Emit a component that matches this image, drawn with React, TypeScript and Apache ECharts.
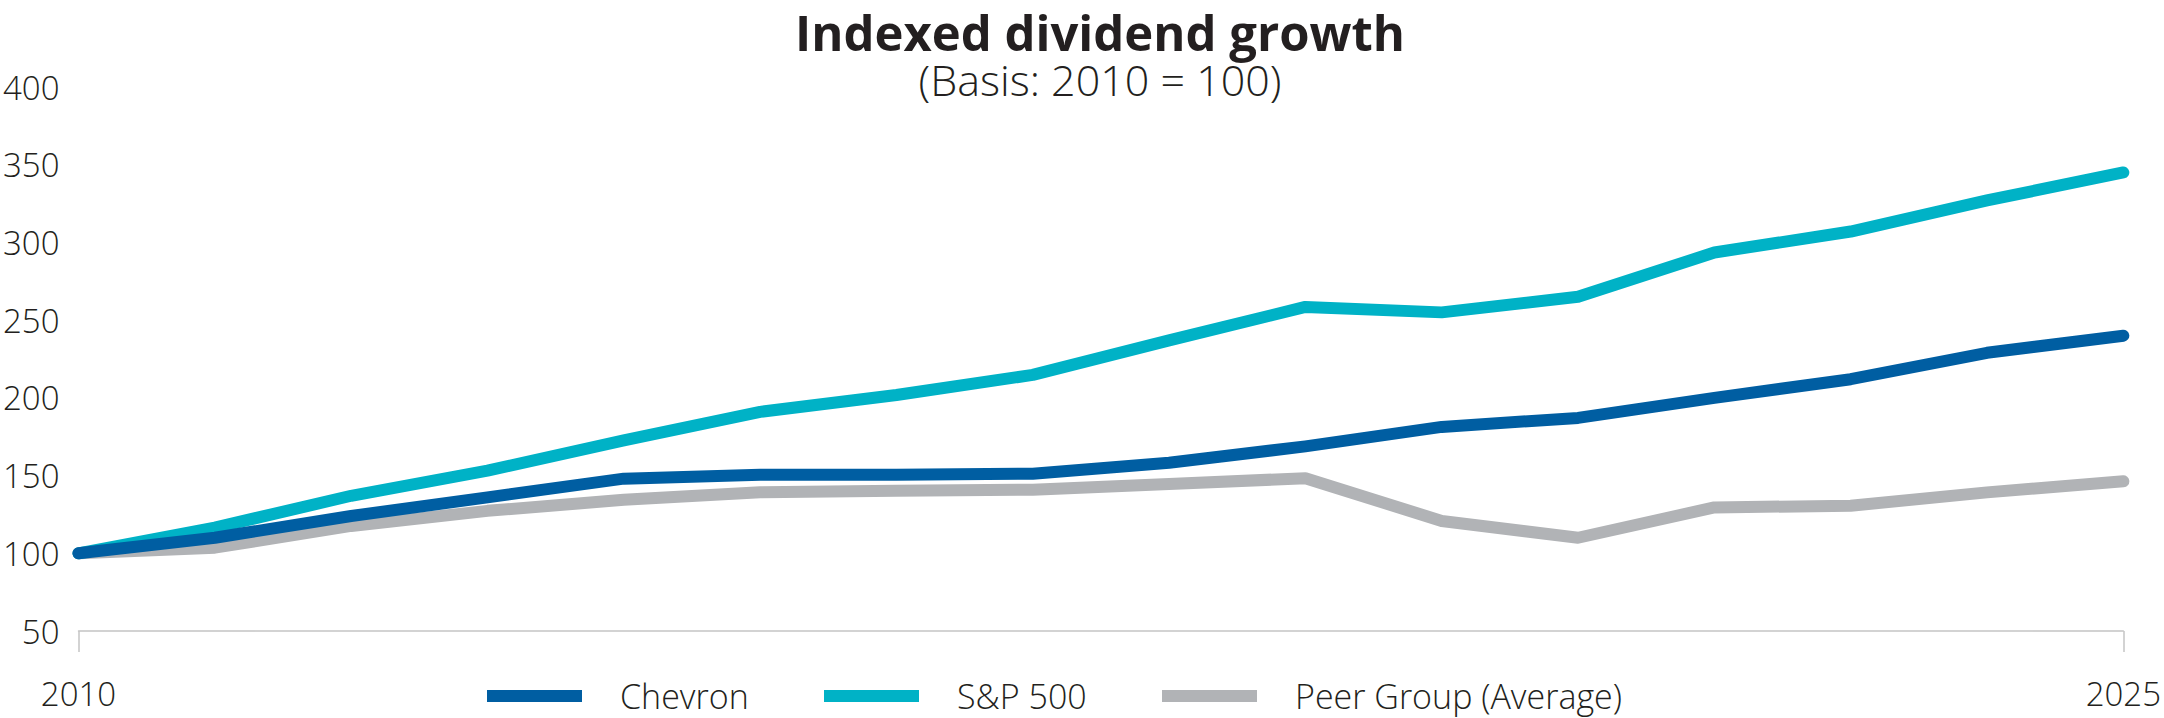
import React, { useEffect, useRef } from "react";
import * as echarts from "echarts";

const years = ["2010", "2011", "2012", "2013", "2014", "2015", "2016", "2017", "2018", "2019", "2020", "2021", "2022", "2023", "2024", "2025"];
const chevron = [100, 110, 124, 136, 148, 150.6, 150.6, 151.2, 158.2, 168.8, 181.3, 187.1, 200, 212, 229, 240];
const sp500 = [100, 116.5, 137, 153.2, 172.7, 191, 201.8, 214.8, 237, 258.5, 255, 265, 293.5, 307, 327, 345];
const peerGroup = [100, 103.6, 117.6, 127.3, 134.4, 139.2, 140.3, 140.9, 144.6, 148.3, 120.8, 110, 129.5, 130.6, 139.2, 146.3];
const seriesNames = ["Chevron", "S&P 500", "Peer Group (Average)"];
const titleText = "Indexed dividend growth";
const subtitleText = "(Basis: 2010 = 100)";

const TEXT = "#231f20";
const FONT = "'Open Sans', 'Noto Sans', sans-serif";
const COLORS = ["#005ea2", "#00b2c6", "#b1b3b6"];

export default function App() {
  const ref = useRef<HTMLDivElement>(null);
  useEffect(() => {
    document.body.style.margin = "0";
    if (!ref.current) return;
    const chart = echarts.init(ref.current, null, { renderer: "svg" });
    const last = years.length - 1;
    const edgeOnly = (i: number) => i === 0 || i === last;
    const legendBase = {
      top: 679,
      padding: 0,
      itemWidth: 95,
      itemHeight: 12,
      icon: "rect",
      textStyle: { fontFamily: FONT, fontSize: 34, lineHeight: 34, fontWeight: 300, color: TEXT, padding: [0, 0, 0, 33] },
    };
    chart.setOption({
      animation: false,
      backgroundColor: "#ffffff",
      graphic: [
        {
          type: "text",
          x: 1100,
          y: 32,
          style: { text: titleText, fontFamily: FONT, fontSize: 49, lineHeight: 49, fontWeight: 700, fill: TEXT, textAlign: "center", textVerticalAlign: "middle" },
        },
        {
          type: "text",
          x: 1100,
          y: 79,
          style: { text: subtitleText, fontFamily: FONT, fontSize: 43, lineHeight: 43, fontWeight: 300, fill: TEXT, textAlign: "center", textVerticalAlign: "middle" },
        },
      ],
      legend: [
        { ...legendBase, left: 487, data: [seriesNames[0]] },
        { ...legendBase, left: 824, data: [seriesNames[1]] },
        { ...legendBase, left: 1162, data: [seriesNames[2]] },
      ],
      grid: { left: 78, right: 36, top: 87, bottom: 87, containLabel: false },
      xAxis: {
        type: "category",
        data: years,
        boundaryGap: false,
        axisLine: { show: true, lineStyle: { color: "#c4c4c4", width: 1.5 } },
        axisTick: { show: true, interval: (i: number) => edgeOnly(i), length: 21, lineStyle: { color: "#c4c4c4", width: 1.5 } },
        axisLabel: { interval: (i: number) => edgeOnly(i), margin: 46, fontFamily: FONT, fontSize: 33, fontWeight: 300, color: TEXT },
        splitLine: { show: false },
      },
      yAxis: {
        type: "value",
        min: 50,
        max: 400,
        interval: 50,
        axisLine: { show: false },
        axisTick: { show: false },
        splitLine: { show: false },
        axisLabel: { margin: 19, fontFamily: FONT, fontSize: 33, fontWeight: 300, color: TEXT },
      },
      series: [
        {
          name: seriesNames[2],
          type: "line",
          data: peerGroup,
          symbol: "none",
          z: 2,
          itemStyle: { color: COLORS[2] },
          lineStyle: { color: COLORS[2], width: 12, cap: "round", join: "round" },
        },
        {
          name: seriesNames[1],
          type: "line",
          data: sp500,
          symbol: "none",
          z: 3,
          itemStyle: { color: COLORS[1] },
          lineStyle: { color: COLORS[1], width: 12, cap: "round", join: "round" },
        },
        {
          name: seriesNames[0],
          type: "line",
          data: chevron,
          symbol: "none",
          z: 4,
          itemStyle: { color: COLORS[0] },
          lineStyle: { color: COLORS[0], width: 12, cap: "round", join: "round" },
        },
      ],
    });
    return () => chart.dispose();
  }, []);
  return <div ref={ref} style={{ width: 2164, height: 718 }} />;
}
